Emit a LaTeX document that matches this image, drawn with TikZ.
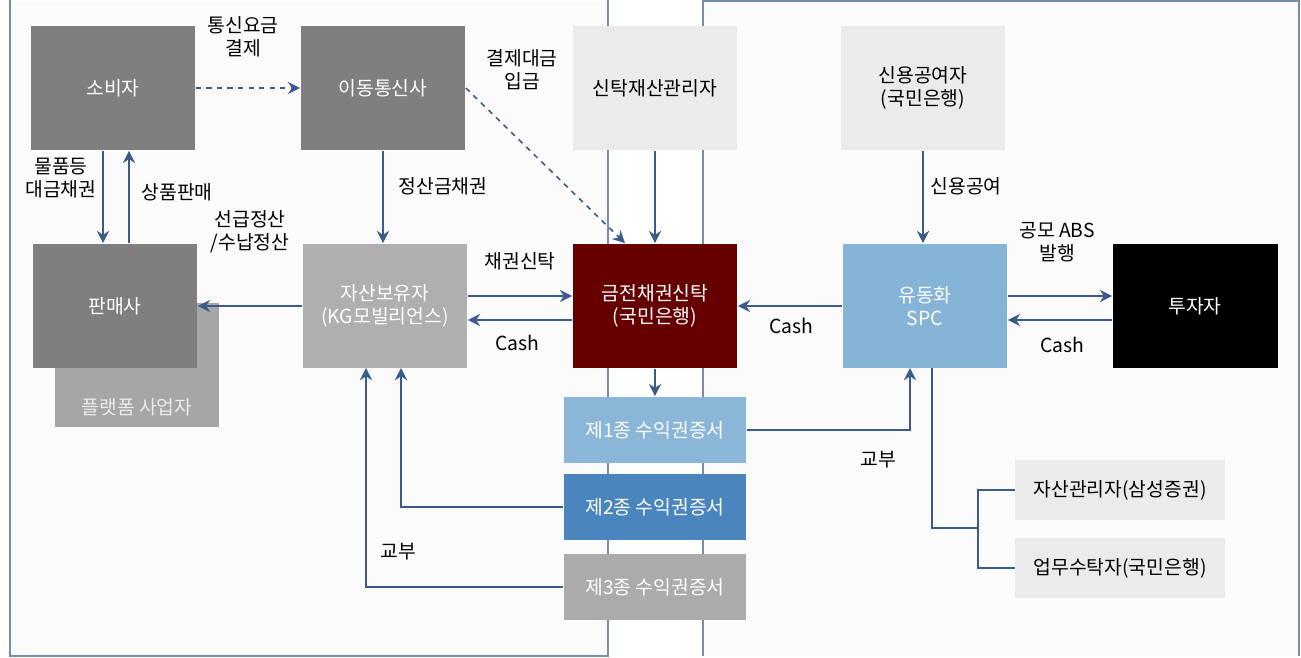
\documentclass[tikz,border=0pt]{standalone}
\usepackage{fontspec}
\setmainfont{Noto Sans CJK KR}
\usetikzlibrary{positioning,arrows.meta}
\definecolor{arr}{HTML}{3B5A8A}
\definecolor{dgray}{HTML}{7F7F7F}
\definecolor{mgray}{HTML}{A6A6A6}
\definecolor{lgray}{HTML}{EBEBEB}
\definecolor{trust}{HTML}{660000}
\definecolor{spc}{HTML}{85B4D7}
\definecolor{sec1}{HTML}{8AB6D8}
\definecolor{sec2}{HTML}{4A86BD}
\definecolor{sec3}{HTML}{ABABAB}
\tikzset{
  party/.style={minimum width=3.3cm,minimum height=2.5cm,inner sep=0pt,align=center,text=white},
  secbox/.style={minimum width=3.66cm,minimum height=1.34cm,inner sep=0pt,text=white},
  sidebox/.style={minimum width=4.2cm,minimum height=1.22cm,inner sep=0pt,fill=lgray},
  flow/.style={arr,line width=0.9pt,-{Stealth[length=7pt,width=7pt]}},
  lbl/.style={align=center,inner sep=1pt}
}
\begin{document}
\begin{tikzpicture}[x=0.02cm,y=-0.02cm,font=\fontsize{11}{13}\selectfont]
  \useasboundingbox (0,0) rectangle (1301,658);
  % panels
  \fill[white!97!gray] (10,1) rectangle (608,656);
  \fill[white!97!gray] (703,1) rectangle (1299,656);
  \draw[arr!70,line width=0.8pt] (10,0) -- (10,656) -- (608,656) -- (608,0);
  \draw[arr!70,line width=0.8pt] (703,656) -- (703,1) -- (1299,1) -- (1299,656);

  % boxes
  \node[party,fill=dgray] (consumer) at (113,88) {소비자};
  \node[party,fill=dgray] (telco) at (383,88) {이동통신사};
  \node[party,fill=lgray,text=black] (manager) at (655,88) {신탁재산관리자};
  \node[party,fill=lgray,text=black] (credit) at (923,88) {신용공여자\\(국민은행)};
  \node[party,fill=mgray,text=white!92!black,text depth=0pt] (platform) at (137,365) {\raisebox{-1.0cm}{플랫폼 사업자}};
  \node[party,fill=dgray] (seller) at (115,306) {판매사};
  \node[party,fill=mgray!90!white] (holder) at (385,306) {자산보유자\\(KG모빌리언스)};
  \node[party,fill=trust] (trustbox) at (655,306) {금전채권신탁\\(국민은행)};
  \node[party,fill=spc] (spcbox) at (925,306) {유동화\\SPC};
  \node[party,fill=black] (investor) at (1195,306) {투자자};
  \node[secbox,fill=sec1] (sec1) at (655,430) {제1종 수익권증서};
  \node[secbox,fill=sec2] (sec2) at (655,507) {제2종 수익권증서};
  \node[secbox,fill=sec3] (sec3) at (655,587) {제3종 수익권증서};
  \node[sidebox] (assetmgr) at (1120,490) {자산관리자(삼성증권)};
  \node[sidebox] (servicer) at (1120,568) {업무수탁자(국민은행)};

  % flows
  \draw[flow,dashed] (consumer.east) -- (telco.west);
  \node[lbl] at (243,37) {통신요금\\결제};
  \draw[flow,dashed] (telco.east) -- (trustbox.north west -| 625,244);
  \node[lbl] at (522,70) {결제대금\\입금};
  \draw[flow] (manager) -- (trustbox);
  \draw[flow] (credit.south) -- (credit.south |- spcbox.north);
  \node[lbl] at (966,186) {신용공여};
  \draw[flow] (telco) -- (telco.south |- holder.north);
  \node[lbl] at (443,186) {정산금채권};
  \draw[flow] ([xshift=-0.2cm]consumer.south) -- ([xshift=-0.2cm]consumer.south |- seller.north);
  \node[lbl] at (61,178) {물품등\\대금채권};
  \draw[flow] ([xshift=0.28cm]seller.north) -- ([xshift=0.28cm]seller.north |- consumer.south);
  \node[lbl] at (177,192) {상품판매};
  \draw[flow] (holder.west) -- (seller.east);
  \node[lbl] at (250,232) {선급정산\\/수납정산};
  \draw[flow] ([yshift=0.2cm]holder.east) -- ([yshift=0.2cm]trustbox.west);
  \node[lbl] at (520,261) {채권신탁};
  \draw[flow] ([yshift=-0.28cm]trustbox.west) -- ([yshift=-0.28cm]holder.east);
  \node[lbl] at (517,343) {Cash};
  \draw[flow] (spcbox.west) -- (trustbox.east);
  \node[lbl] at (791,326) {Cash};
  \draw[flow] ([yshift=0.2cm]spcbox.east) -- ([yshift=0.2cm]investor.west);
  \node[lbl] at (1057,242) {공모 ABS\\발행};
  \draw[flow] ([yshift=-0.28cm]investor.west) -- ([yshift=-0.28cm]spcbox.east);
  \node[lbl] at (1062,345) {Cash};
  \draw[flow] (trustbox.south) -- (sec1.north);
  \draw[flow] (sec1.east) -| (910,368);
  \node[lbl] at (878,460) {교부};
  \draw[flow] (sec2.west) -| (401,368);
  \draw[flow] (sec3.west) -| (366,368);
  \node[lbl] at (398,552) {교부};
  % SPC administration
  \coordinate (fork) at (978,528);
  \draw[arr,line width=0.9pt] (932,368) |- (fork);
  \draw[arr,line width=0.9pt] (assetmgr.west) -| (fork) |- (servicer.west);
\end{tikzpicture}
\end{document}
